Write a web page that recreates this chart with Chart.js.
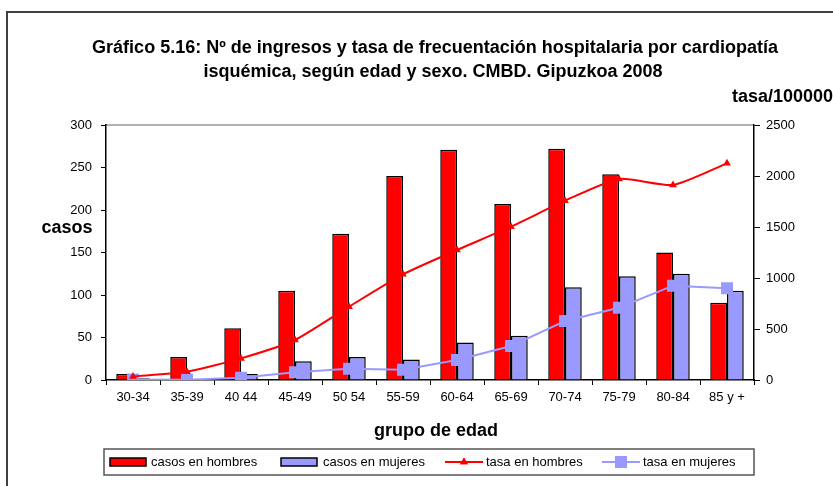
<!DOCTYPE html>
<html lang="es">
<head>
<meta charset="utf-8">
<title>Cardiopatía isquémica - Gipuzkoa 2008</title>
<script src="https://cdn.jsdelivr.net/npm/chart.js@4/dist/chart.umd.min.js"></script>
<style>
  html, body { margin: 0; padding: 0; background: #fff; }
  #wrap { width: 833px; height: 486px; position: relative; }
</style>
</head>
<body>
<div id="wrap"><canvas id="grafico"></canvas></div>
<script>
/* ── datos ── */
const grupos = ['30-34', '35-39', '40 44', '45-49', '50 54', '55-59', '60-64', '65-69', '70-74', '75-79', '80-84', '85 y +'];
const casosHombres = [7, 27, 61, 105, 172, 240, 271, 207, 272, 242, 150, 91];
const casosMujeres = [2, 1, 7, 22, 27, 24, 44, 52, 109, 122, 125, 105];
const tasaHombres = [35, 81, 212, 392, 719, 1036, 1275, 1503, 1758, 1971, 1912, 2124];
const tasaMujeres = [5, 3, 23, 75, 111, 101, 196, 333, 578, 709, 925, 899];
const ticksCasos = [0, 300, 50];      // min, max, paso
const ticksTasa = [0, 2500, 500];

const FONT = "'Liberation Sans', Arial, sans-serif";
const ROJO = '#ff0000';
const AZUL = '#9999ff';

const titulo = [
    'Gráfico 5.16: Nº de ingresos y tasa de frecuentación hospitalaria por cardiopatía',
    'isquémica, según edad y sexo. CMBD. Gipuzkoa 2008'
];

/* ── marco, títulos y leyenda ── */
const decoracion = {
    id: 'decoracion',
    beforeDraw(chart) {
        const ctx = chart.ctx;
        const a = chart.chartArea;
        ctx.save();
        ctx.fillStyle = '#fff';
        ctx.fillRect(0, 0, chart.width, chart.height);
        // marco exterior
        ctx.strokeStyle = '#404040';
        ctx.lineWidth = 2;
        ctx.beginPath();
        ctx.moveTo(7, chart.height);
        ctx.lineTo(7, 12);
        ctx.lineTo(chart.width, 12);
        ctx.stroke();
        // borde superior del área de trazado
        ctx.strokeStyle = '#999';
        ctx.lineWidth = 1.5;
        ctx.beginPath();
        ctx.moveTo(a.left, a.top);
        ctx.lineTo(a.right, a.top);
        ctx.stroke();
        ctx.restore();
    },
    afterDraw(chart) {
        const ctx = chart.ctx;
        ctx.save();
        ctx.fillStyle = '#000';
        ctx.textBaseline = 'middle';
        ctx.font = 'bold 18px ' + FONT;
        ctx.textAlign = 'center';
        ctx.fillText(titulo[0], 435, 48);
        ctx.fillText(titulo[1], 433, 72);
        ctx.fillText('grupo de edad', 436, 431);
        ctx.fillText('casos', 67, 228);
        ctx.textAlign = 'right';
        ctx.fillText('tasa/100000', 833, 97);

        // leyenda
        const lx = 104, ly = 449, lw = 650, lh = 26, cy = ly + lh / 2;
        ctx.strokeStyle = '#555';
        ctx.lineWidth = 1.5;
        ctx.strokeRect(lx, ly, lw, lh);
        ctx.font = '13px ' + FONT;
        ctx.textAlign = 'left';
        const ds = chart.data.datasets;
        const items = [
            { x: 110, tx: 151 },
            { x: 281, tx: 323 },
            { x: 445, tx: 486 },
            { x: 602, tx: 643 }
        ];
        items.forEach((it, i) => {
            const d = ds[i];
            if (d.type === 'bar') {
                ctx.fillStyle = d.backgroundColor;
                ctx.fillRect(it.x, cy - 4, 36, 8);
                ctx.strokeStyle = '#000';
                ctx.lineWidth = 1.5;
                ctx.strokeRect(it.x, cy - 4, 36, 8);
            } else {
                ctx.strokeStyle = d.borderColor;
                ctx.lineWidth = d.borderWidth;
                ctx.beginPath();
                ctx.moveTo(it.x, cy);
                ctx.lineTo(it.x + 38, cy);
                ctx.stroke();
                ctx.fillStyle = d.pointBackgroundColor;
                Chart.helpers.drawPoint(ctx, {
                    pointStyle: d.pointStyle,
                    radius: d.pointRadius,
                    rotation: 0,
                    borderWidth: 0
                }, it.x + 19, cy);
                ctx.fill();
            }
            ctx.fillStyle = '#000';
            ctx.fillText(d.label, it.tx, cy);
        });
        ctx.restore();
    }
};

const tickFont = { family: FONT, size: 13 };
const sinMiles = v => String(v);

new Chart(document.getElementById('grafico'), {
    data: {
        labels: grupos,
        datasets: [
            {
                type: 'bar', label: 'casos en hombres', data: casosHombres, yAxisID: 'y',
                backgroundColor: ROJO, borderColor: '#000', borderWidth: 1.5,
                categoryPercentage: 0.62, barPercentage: 1, order: 2
            },
            {
                type: 'bar', label: 'casos en mujeres', data: casosMujeres, yAxisID: 'y',
                backgroundColor: AZUL, borderColor: '#000', borderWidth: 1.5,
                categoryPercentage: 0.62, barPercentage: 1, order: 2
            },
            {
                type: 'line', label: 'tasa en hombres', data: tasaHombres, yAxisID: 'y1',
                borderColor: ROJO, borderWidth: 2, tension: 0.2,
                pointStyle: 'triangle', pointRadius: 4.5, pointBackgroundColor: ROJO,
                pointBorderColor: ROJO, pointBorderWidth: 0, order: 1
            },
            {
                type: 'line', label: 'tasa en mujeres', data: tasaMujeres, yAxisID: 'y1',
                borderColor: AZUL, borderWidth: 2, tension: 0,
                pointStyle: 'rect', pointRadius: 8.5, pointBackgroundColor: AZUL,
                pointBorderColor: AZUL, pointBorderWidth: 0, order: 1
            }
        ]
    },
    options: {
        responsive: true,
        maintainAspectRatio: false,
        animation: false,
        layout: { padding: { top: 125, left: 0, right: 0, bottom: 0 } },
        plugins: {
            legend: { display: false },
            title: { display: false },
            tooltip: { enabled: false }
        },
        scales: {
            x: {
                offset: true,
                grid: { offset: true, drawOnChartArea: false, color: '#000', tickLength: 5 },
                border: { color: '#000', width: 1.5 },
                ticks: { font: tickFont, color: '#000', padding: 5, maxRotation: 0, autoSkip: false },
                afterFit(s) { s.height = 106; }
            },
            y: {
                position: 'left',
                min: ticksCasos[0], max: ticksCasos[1],
                grid: { drawOnChartArea: false, color: '#000', tickLength: 5 },
                border: { color: '#000', width: 1.5 },
                ticks: { stepSize: ticksCasos[2], font: tickFont, color: '#000', padding: 9, callback: sinMiles },
                afterFit(s) { s.width = 106; }
            },
            y1: {
                position: 'right',
                min: ticksTasa[0], max: ticksTasa[1],
                grid: { drawOnChartArea: false, color: '#000', tickLength: 6 },
                border: { color: '#000', width: 1.5 },
                ticks: { stepSize: ticksTasa[2], font: tickFont, color: '#000', padding: 6, callback: sinMiles },
                afterFit(s) { s.width = 79; }
            }
        }
    },
    plugins: [decoracion]
});
</script>
</body>
</html>
